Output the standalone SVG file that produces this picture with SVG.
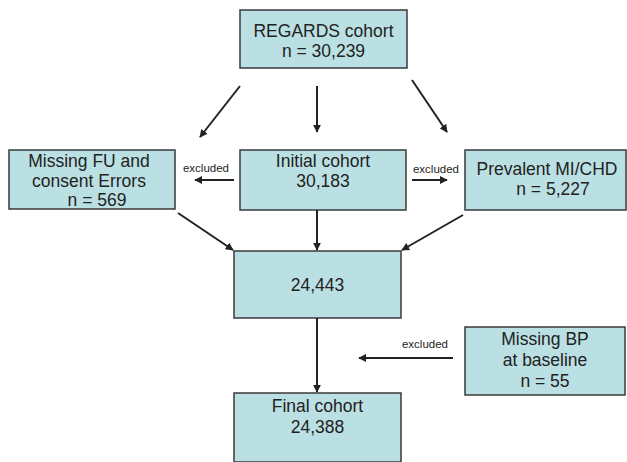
<svg xmlns="http://www.w3.org/2000/svg" width="627" height="462" viewBox="0 0 627 462">
<style>
.box{fill:#bbe0e3;stroke:#3a3a3a;stroke-width:1.5}
.t{font-family:"Liberation Sans",Arial,sans-serif;font-size:17.5px;fill:#222;text-anchor:middle}
.s{font-family:"Liberation Sans",Arial,sans-serif;font-size:11.5px;fill:#222;text-anchor:middle}
.c{stroke:#222;stroke-width:2;fill:none;marker-end:url(#ah)}
</style>
<defs>
<marker id="ah" viewBox="0 0 10 10" refX="9" refY="5" markerWidth="4" markerHeight="4" orient="auto" markerUnits="strokeWidth">
<path d="M0,0 L10,5 L0,10 z" fill="#222"/>
</marker>
</defs>
<rect width="627" height="462" fill="#fff"/>
<g id="regards"><rect class="box" x="240" y="10" width="167" height="58"/>
<text class="t" x="323.5" y="37">REGARDS cohort</text><text class="t" x="323.5" y="57">n = 30,239</text></g>
<g id="missingfu"><rect class="box" x="9" y="150" width="166" height="59"/>
<text class="t" x="89" y="167">Missing FU and</text><text class="t" x="89" y="187">consent Errors</text><text class="t" x="97" y="206">n = 569</text></g>
<g id="initial"><rect class="box" x="240" y="150" width="166" height="60"/>
<text class="t" x="323" y="167">Initial cohort</text><text class="t" x="323" y="187">30,183</text></g>
<g id="prevalent"><rect class="box" x="465" y="150" width="161" height="60"/>
<text class="t" x="547" y="175">Prevalent MI/CHD</text><text class="t" x="553" y="195">n = 5,227</text></g>
<g id="n24443"><rect class="box" x="234" y="251" width="167" height="67"/>
<text class="t" x="317.5" y="291">24,443</text></g>
<g id="missingbp"><rect class="box" x="465" y="327" width="160" height="68"/>
<text class="t" x="545" y="345">Missing BP</text><text class="t" x="545" y="366">at baseline</text><text class="t" x="545" y="387">n = 55</text></g>
<g id="final"><rect class="box" x="234" y="393" width="167" height="69"/>
<text class="t" x="317.5" y="412">Final cohort</text><text class="t" x="317.5" y="433">24,388</text></g>
<g id="connectors">
<line class="c" x1="240" y1="86" x2="200" y2="137"/>
<line class="c" x1="317" y1="86" x2="317" y2="132"/>
<line class="c" x1="412" y1="80" x2="447" y2="132"/>
<line class="c" x1="234" y1="180" x2="195" y2="180"/>
<line class="c" x1="412" y1="180" x2="447" y2="180"/>
<line class="c" x1="178" y1="213" x2="233" y2="250"/>
<line class="c" x1="317" y1="210" x2="317" y2="250"/>
<line class="c" x1="463" y1="215" x2="402" y2="250"/>
<line class="c" x1="317" y1="318" x2="317" y2="392"/>
<line class="c" x1="453" y1="358" x2="359" y2="358"/>
<text class="s" x="206" y="172">excluded</text>
<text class="s" x="436" y="173">excluded</text>
<text class="s" x="425" y="348">excluded</text>
</g>
</svg>
